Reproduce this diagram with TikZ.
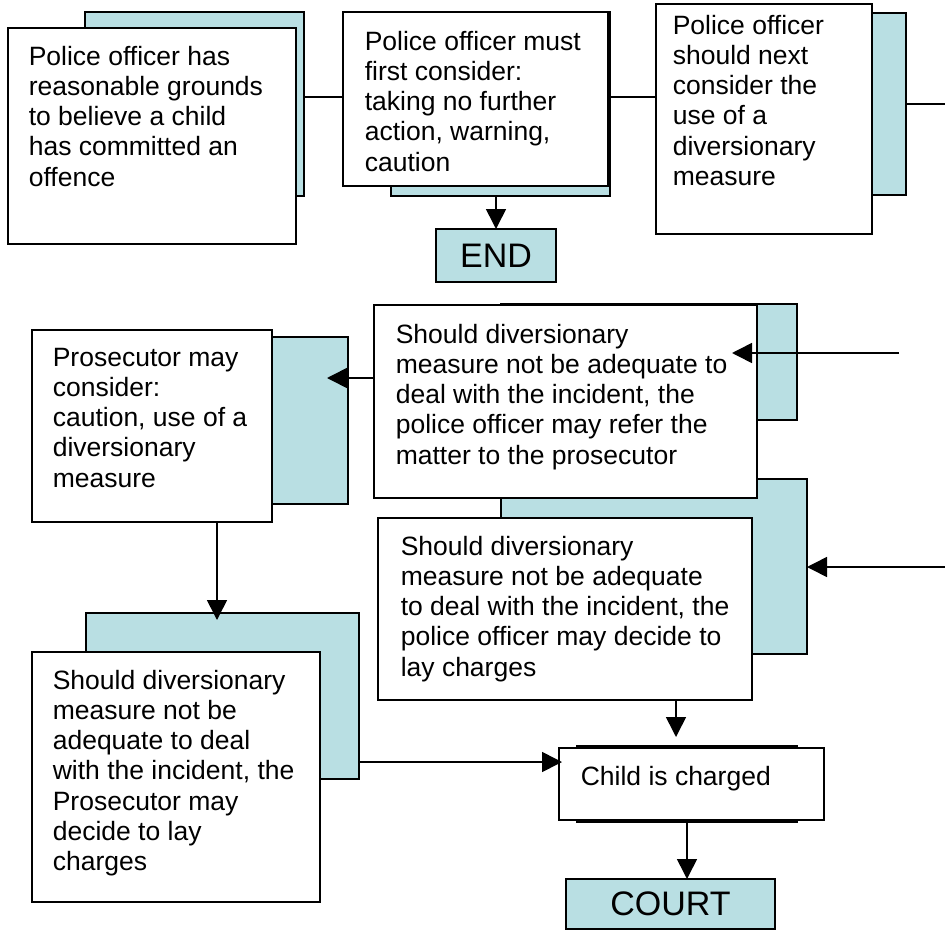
\documentclass[tikz,border=0pt]{standalone}
\usepackage{fontspec}
\setmainfont{Liberation Sans}
\usetikzlibrary{arrows.meta}
\definecolor{plate}{RGB}{185,223,227}

\begin{document}
\begin{tikzpicture}[x=1pt, y=-1pt, line width=1.6pt,
    back/.style={draw, fill=plate, anchor=north west, inner sep=0, outer sep=0},
    front/.style={draw, fill=white, anchor=north west, inner sep=0, outer sep=0},
    words/.style={anchor=north west, inner sep=0, align=left, font=\fontsize{26.5}{30.3}\selectfont},
    big/.style={font=\fontsize{34}{40}\selectfont},
    arr/.style={-{Triangle[length=20pt,width=20pt]}}]
    \useasboundingbox (0,0) rectangle (945,931);
    % back plates
    \node[back, minimum width=219pt, minimum height=184pt](Aback)at(85,12){};
    \node[back, minimum width=219pt, minimum height=184pt](Bback)at(391,12){};
    \node[back, minimum width=219pt, minimum height=182pt](Cback)at(687,13){};
    \node[back, minimum width=296pt, minimum height=116pt](Dback)at(501,304){};
    \node[back, minimum width=306pt, minimum height=175pt](Eback)at(501,479){};
    \node[back, minimum width=248pt, minimum height=167pt](Pback)at(100,337){};
    \node[back, minimum width=273pt, minimum height=166pt](Fback)at(86,613){};
    \node[back, minimum width=220pt, minimum height=76pt](Childback)at(577,746){};
    % front boxes
    \node[front, minimum width=288pt, minimum height=216pt](A)at(8,28){};
    \node[front, minimum width=265pt, minimum height=174pt](B)at(343,12){};
    \node[front, minimum width=216pt, minimum height=230pt](C)at(656,4){};
    \node[front, minimum width=383pt, minimum height=193pt](D)at(374,305){};
    \node[front, minimum width=374pt, minimum height=182pt](E)at(378,518){};
    \node[front, minimum width=240pt, minimum height=192pt](P)at(32,330){};
    \node[front, minimum width=288pt, minimum height=250pt](F)at(32,652){};
    \node[front, minimum width=265pt, minimum height=72pt](Child)at(559,748){};
    \node[back, big, minimum width=120pt, minimum height=53pt](End)at(436,229){END};
    \node[back, big, minimum width=209pt, minimum height=50pt](Court)at(566,879){COURT};
    % texts
    \node[words](At)at(28,45){Police officer has\\reasonable grounds\\to believe a child\\has committed an\\offence};
    \node[words](Bt)at(364,30){Police officer must\\first consider:\\taking no further\\action, warning,\\caution};
    \node[words](Ct)at(672,14){Police officer\\should next\\consider the\\use of a\\diversionary\\measure};
    \node[words](Dt)at(395,323){Should diversionary\\measure not be adequate to\\deal with the incident, the\\police officer may refer the\\matter to the prosecutor};
    \node[words](Et)at(400,535){Should diversionary\\measure not be adequate\\to deal with the incident, the\\police officer may decide to\\lay charges};
    \node[words](Pt)at(52,347){Prosecutor may\\consider:\\caution, use of a\\diversionary\\measure};
    \node[words](Ft)at(52,669){Should diversionary\\measure not be\\adequate to deal\\with the incident, the\\Prosecutor may\\decide to lay\\charges};
    \node[words](Childt)at(580,765){Child is charged};
    % connectors
    \coordinate(row)at(0,97);
    \coordinate(cout)at(945,104);
    \coordinate(din)at(899,353);
    \coordinate(ein)at(945,567);
    \coordinate(dp)at(0,378);
    \coordinate(pf)at(217,0);
    \coordinate(fc)at(0,762);
    \coordinate(ec)at(676,0);
    \coordinate(cc)at(687,0);
    \draw(Aback.east |- row)--(B.west |- row);
    \draw(Bback.east |- row)--(C.west |- row);
    \draw(Cback.east)--(cout);
    \draw[arr](End.north |- Bback.south)--(End.north);
    \draw[arr, shorten >=-25pt](din)--(din -| D.east);
    \draw[arr](ein)--(ein -| Eback.east);
    \draw[arr, shorten >=-21pt](D.west |- dp)--(Pback.east |- dp);
    \draw[arr, shorten >=-7pt](P.south -| pf)--(Fback.north -| pf);
    \draw[arr, shorten >=-3pt](Fback.east |- fc)--(Child.west |- fc);
    \draw[arr, shorten >=11pt](E.south -| ec)--(Child.north -| ec);
    \draw[arr](Child.south -| cc)--(Court.north -| cc);
\end{tikzpicture}
\end{document}
